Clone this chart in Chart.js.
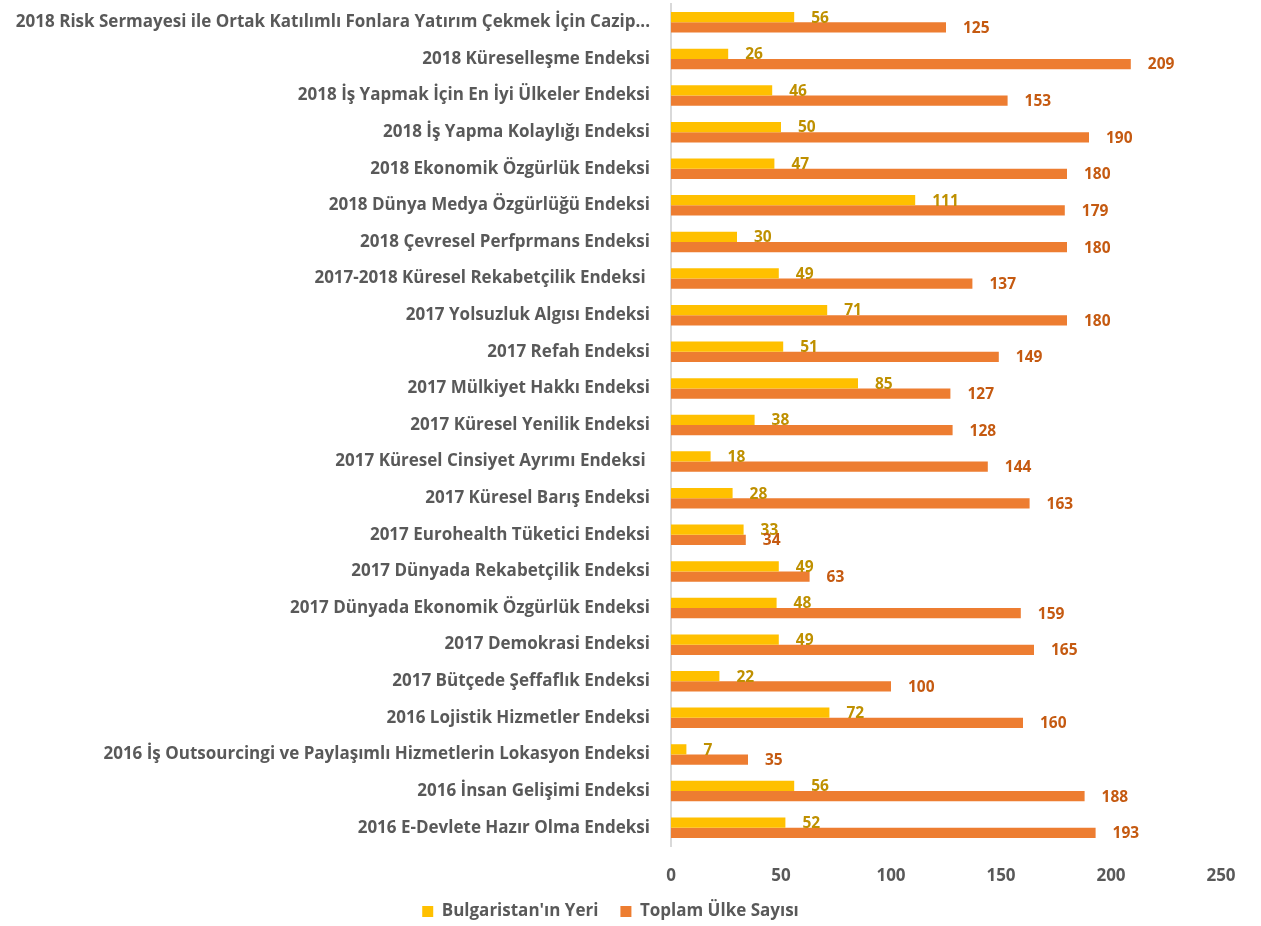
<!DOCTYPE html>
<html>
<head>
<meta charset="utf-8">
<script src="https://cdn.jsdelivr.net/npm/chart.js@4/dist/chart.umd.min.js"></script>
<style>
  body { margin: 0; background: #fff; }
  #wrap { width: 1261px; height: 926px; position: relative; }
</style>
</head>
<body>
<div id="wrap"><canvas id="bar"></canvas></div>
<script>
// kategoriler (yukarıdan aşağıya)
const labels = [
    "2018 Risk Sermayesi ile Ortak Katılımlı Fonlara Yatırım Çekmek İçin Cazip...",
    "2018 Küreselleşme Endeksi",
    "2018 İş Yapmak İçin En İyi Ülkeler Endeksi",
    "2018 İş Yapma Kolaylığı Endeksi",
    "2018 Ekonomik Özgürlük Endeksi",
    "2018 Dünya Medya Özgürlüğü Endeksi",
    "2018 Çevresel Perfprmans Endeksi",
    "2017-2018 Küresel Rekabetçilik Endeksi ",
    "2017 Yolsuzluk Algısı Endeksi",
    "2017 Refah Endeksi",
    "2017 Mülkiyet Hakkı Endeksi",
    "2017 Küresel Yenilik Endeksi",
    "2017 Küresel Cinsiyet Ayrımı Endeksi ",
    "2017 Küresel Barış Endeksi",
    "2017 Eurohealth Tüketici Endeksi",
    "2017 Dünyada Rekabetçilik Endeksi",
    "2017 Dünyada Ekonomik Özgürlük Endeksi",
    "2017 Demokrasi Endeksi",
    "2017 Bütçede Şeffaflık Endeksi",
    "2016 Lojistik Hizmetler Endeksi",
    "2016 İş Outsourcingi ve Paylaşımlı Hizmetlerin Lokasyon Endeksi",
    "2016 İnsan Gelişimi Endeksi",
    "2016 E-Devlete Hazır Olma Endeksi"
];
const bulgaristanYeri = [56, 26, 46, 50, 47, 111, 30, 49, 71, 51, 85, 38, 18, 28, 33, 49, 48, 49, 22, 72, 7, 56, 52];
const toplamUlke = [125, 209, 153, 190, 180, 179, 180, 137, 180, 149, 127, 128, 144, 163, 34, 63, 159, 165, 100, 160, 35, 188, 193];
const xTicks = [0, 50, 100, 150, 200, 250];

const FONT = "'Open Sans', Lato, sans-serif";
const TEXT = "#595959";

// değer etiketleri (datalabels eklentisi yok, elle çiziyoruz)
const valueLabels = {
    id: "valueLabels",
    afterDatasetsDraw(chart) {
        const ctx = chart.ctx;
        ctx.save();
        ctx.font = "bold 15.5px " + FONT;
        ctx.textAlign = "left";
        ctx.textBaseline = "middle";
        chart.data.datasets.forEach((ds, i) => {
            const meta = chart.getDatasetMeta(i);
            ctx.fillStyle = ds.labelColor;
            meta.data.forEach((el, j) => {
                ctx.fillText(String(ds.data[j]), el.x + 17, el.y + 1);
            });
        });
        ctx.restore();
    }
};

const canvasBar = document.getElementById("bar");
const chart = new Chart(canvasBar, {
    type: "bar",
    data: {
        labels: labels,
        datasets: [{
            label: "Bulgaristan'ın Yeri",
            data: bulgaristanYeri,
            backgroundColor: "#FFC000",
            labelColor: "#BF9000",
            categoryPercentage: 0.56,
            barPercentage: 1.0
        }, {
            label: "Toplam Ülke Sayısı",
            data: toplamUlke,
            backgroundColor: "#ED7D31",
            labelColor: "#C55A11",
            categoryPercentage: 0.56,
            barPercentage: 1.0
        }]
    },
    options: {
        indexAxis: "y",
        responsive: true,
        maintainAspectRatio: false,
        animation: false,
        layout: { padding: { top: 4, right: 40, left: 0, bottom: 0 } },
        plugins: {
            tooltip: { enabled: false },
            legend: {
                position: "bottom",
                align: "center",
                maxHeight: 45,
                labels: {
                    boxWidth: 11,
                    boxHeight: 11,
                    padding: 22,
                    color: TEXT,
                    font: { family: FONT, size: 17, weight: "bold" }
                }
            }
        },
        scales: {
            x: {
                min: 0,
                max: 250,
                afterBuildTicks: (s) => { s.ticks = xTicks.map(v => ({ value: v })); },
                grid: { display: false },
                border: { display: false },
                ticks: {
                    padding: 12,
                    color: TEXT,
                    font: { family: FONT, size: 17, weight: "bold" }
                },
                afterFit: (s) => { s.height = 35; }
            },
            y: {
                grid: { display: false },
                border: { display: true, color: "#D9D9D9", width: 2 },
                ticks: {
                    padding: 13,
                    autoSkip: false,
                    color: TEXT,
                    font: { family: FONT, size: 17, weight: "bold" }
                },
                afterFit: (s) => {
                    s.width = 671;
                    s.paddingTop = 0;
                    s.paddingBottom = 0;
                }
            }
        }
    },
    plugins: [valueLabels]
});
</script>
</body>
</html>
